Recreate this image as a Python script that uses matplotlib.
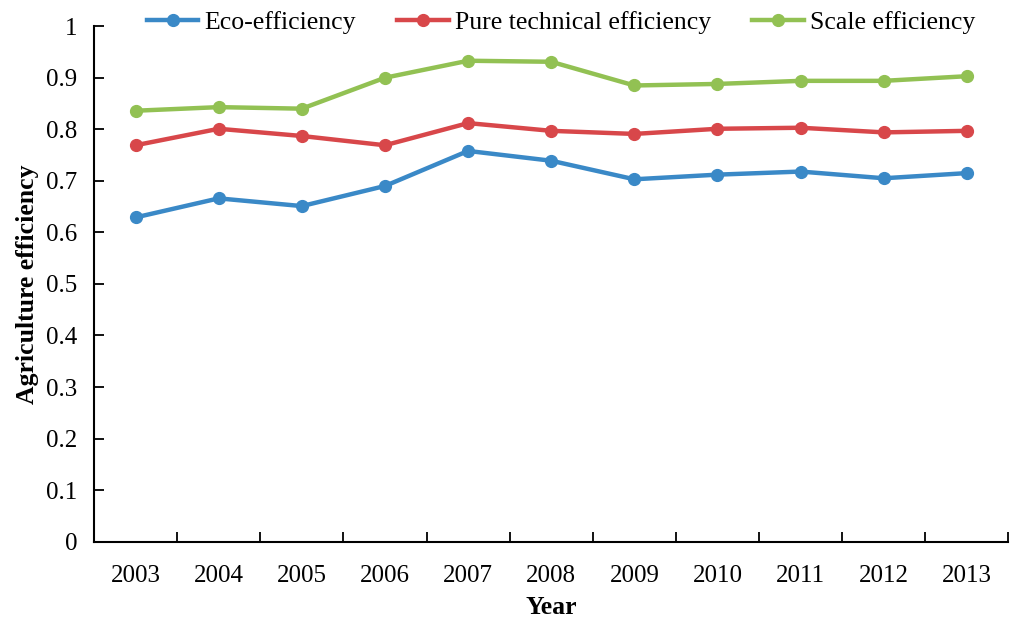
import matplotlib
matplotlib.use("Agg")
import matplotlib.pyplot as plt

years = ["2003", "2004", "2005", "2006", "2007", "2008",
         "2009", "2010", "2011", "2012", "2013"]
eco = [0.629, 0.666, 0.651, 0.690, 0.758, 0.739, 0.703, 0.712, 0.718, 0.705, 0.715]
pure_tech = [0.769, 0.801, 0.787, 0.769, 0.812, 0.797, 0.791, 0.801, 0.803, 0.794, 0.797]
scale = [0.836, 0.843, 0.840, 0.900, 0.933, 0.931, 0.885, 0.888, 0.894, 0.894, 0.903]
y_ticks = [0, 0.1, 0.2, 0.3, 0.4, 0.5, 0.6, 0.7, 0.8, 0.9, 1]
y_labels = ["0", "0.1", "0.2", "0.3", "0.4", "0.5", "0.6", "0.7", "0.8", "0.9", "1"]

plt.rcParams["font.family"] = ["Liberation Serif", "DejaVu Serif"]

fig = plt.figure(figsize=(10.24, 6.24), dpi=100)
ax = fig.add_axes([0.0918, 0.132, 0.893, 0.826])

x = list(range(len(years)))
series = [
    (eco, "Eco-efficiency", "#3a89c7"),
    (pure_tech, "Pure technical efficiency", "#d8474a"),
    (scale, "Scale efficiency", "#92c153"),
]
for vals, name, col in series:
    ax.plot(x, vals, color=col, lw=3.2, marker="o", ms=8.5, label=name)

ax.set_xlim(-0.5, len(years) - 0.5)
ax.set_ylim(0, 1)
ax.set_yticks(y_ticks)
ax.set_yticklabels(y_labels)
ax.set_xticks(x)
ax.set_xticklabels(years)
ax.set_xticks([i - 0.5 for i in range(len(years) + 1)], minor=True)
ax.tick_params(axis="x", which="major", length=0, pad=17, labelsize=18)
ax.tick_params(axis="x", which="minor", direction="in", length=7, width=1.3)
ax.tick_params(axis="y", direction="in", length=7, width=1.3, pad=12, labelsize=18)

for side in ["top", "right"]:
    ax.spines[side].set_visible(False)
for side in ["left", "bottom"]:
    ax.spines[side].set_linewidth(1.5)

ax.set_xlabel("Year", fontsize=18.5, fontweight="bold", labelpad=6)
ax.set_ylabel("Agriculture efficiency", fontsize=18.5, fontweight="bold", labelpad=5)

fig.legend(loc="upper center", bbox_to_anchor=(0.548, 1.02), ncol=3, frameon=False,
           fontsize=18.5, handlelength=2.0, columnspacing=1.6, handletextpad=0.25)

fig.savefig("out.png", dpi=100)
